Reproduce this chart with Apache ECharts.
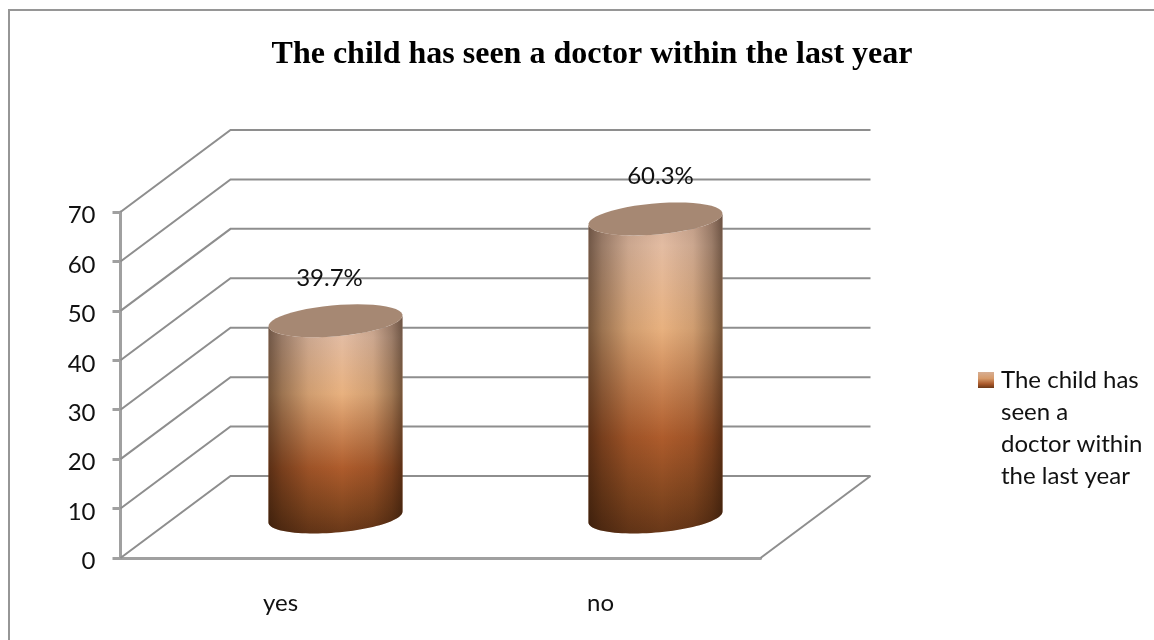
<!DOCTYPE html>
<html>
<head>
<meta charset="utf-8">
<style>html,body{margin:0;padding:0;background:#fff}#chart{width:1154px;height:640px}</style>
<script src="https://cdn.jsdelivr.net/npm/echarts@6/dist/echarts.min.js"></script>
</head>
<body>
<div id="chart"></div>
<script>
const categories = ['yes', 'no'];
const percentValues = [39.7, 60.3];
const tickValues = [0, 10, 20, 30, 40, 50, 60, 70];
const seriesName = 'The child has seen a doctor within the last year';

// Oblique projection of the chart floor: how far the back wall sits from the front plane.
const DEPTH_X = 110;
const DEPTH_Y = -82;
// Cylinder footprint as an ellipse built from two conjugate half-axes.
const AXIS_U = 63.3;
const AXIS_V_X = 22;
const AXIS_V_Y = -16.5;
const LABEL_NUDGE = [-6, 5];
const GRID_COLOR = '#8e8e8e';
const AXIS_COLOR = '#a0a0a0';
const FONT = 'Lato, "Open Sans", sans-serif';

function ellipsePoint(cx, cy, t) {
  return [
    cx + AXIS_U * Math.cos(t) + AXIS_V_X * Math.sin(t),
    cy + AXIS_V_Y * Math.sin(t)
  ];
}

function ellipseArc(cx, cy, from, to) {
  const pts = [];
  const steps = 48;
  for (let i = 0; i <= steps; i++) {
    pts.push(ellipsePoint(cx, cy, from + (to - from) * i / steps));
  }
  return pts;
}

const bodyGradient = new echarts.graphic.LinearGradient(0, 0, 0, 1, [
  { offset: 0, color: '#d4ae98' },
  { offset: 0.1, color: '#e3bca2' },
  { offset: 0.36, color: '#e8b17f' },
  { offset: 0.7, color: '#ae5c2c' },
  { offset: 0.88, color: '#854820' },
  { offset: 1, color: '#683718' }
]);
const sideShade = new echarts.graphic.LinearGradient(0, 0, 1, 0, [
  { offset: 0, color: 'rgba(30,14,4,0.58)' },
  { offset: 0.1, color: 'rgba(30,14,4,0.38)' },
  { offset: 0.3, color: 'rgba(30,14,4,0.12)' },
  { offset: 0.55, color: 'rgba(30,14,4,0)' },
  { offset: 0.78, color: 'rgba(30,14,4,0.12)' },
  { offset: 0.92, color: 'rgba(30,14,4,0.36)' },
  { offset: 1, color: 'rgba(30,14,4,0.58)' }
]);
const legendGradient = new echarts.graphic.LinearGradient(0, 0, 0, 1, [
  { offset: 0, color: '#d7ae93' },
  { offset: 0.4, color: '#d69a6a' },
  { offset: 0.75, color: '#a9582a' },
  { offset: 1, color: '#6b3817' }
]);

function renderCylinder(params, api) {
  const index = api.value(0);
  const value = api.value(1);
  const front = api.coord([index, 0]);
  const top = api.coord([index, value]);
  const cx = front[0] + DEPTH_X / 2;
  const baseY = front[1] + DEPTH_Y / 2;
  const topY = top[1] + DEPTH_Y / 2;
  // Angle of the right-hand silhouette point of the tilted ellipse.
  const edge = Math.atan2(AXIS_V_X, AXIS_U);
  const lower = ellipseArc(cx, baseY, edge, edge - Math.PI);
  const upper = ellipseArc(cx, topY, edge - Math.PI, edge);
  const body = lower.concat(upper);
  const lid = ellipseArc(cx, topY, 0, Math.PI * 2);
  return {
    type: 'group',
    children: [
      { type: 'polygon', shape: { points: body }, style: { fill: bodyGradient } },
      { type: 'polygon', shape: { points: body }, style: { fill: sideShade } },
      { type: 'polygon', shape: { points: lid }, style: { fill: '#a68873' } },
      {
        type: 'text',
        style: {
          text: value.toFixed(1) + '%',
          x: cx + LABEL_NUDGE[index],
          y: topY - 43,
          align: 'center',
          verticalAlign: 'middle',
          fill: '#111',
          font: '24px ' + FONT
        }
      }
    ]
  };
}

function renderWallLine(params, api) {
  const value = api.value(0);
  const rect = params.coordSys;
  const y = api.coord([0, value])[1];
  const left = rect.x;
  const backLeft = left + DEPTH_X;
  const backRight = left + rect.width + DEPTH_X;
  const lineStyle = { stroke: GRID_COLOR, lineWidth: 2, fill: null };
  const children = [{
    type: 'polyline',
    shape: { points: [[left, y], [backLeft, y + DEPTH_Y], [backRight, y + DEPTH_Y]] },
    style: lineStyle
  }];
  if (value === tickValues[0]) {
    // The floor closes with a diagonal on its right side.
    children.push({
      type: 'line',
      shape: { x1: left + rect.width, y1: y, x2: backRight, y2: y + DEPTH_Y },
      style: lineStyle
    });
  }
  return { type: 'group', children: children };
}

const chart = echarts.init(document.getElementById('chart'), null, { renderer: 'canvas' });
chart.setOption({
  animation: false,
  backgroundColor: '#fff',
  textStyle: { fontFamily: FONT },
  title: {
    text: 'The child has seen a doctor within the last year',
    left: 587,
    top: 34,
    textAlign: 'center',
    textStyle: {
      fontFamily: '"Liberation Serif", serif',
      fontWeight: 'bold',
      fontSize: 32,
      color: '#000'
    }
  },
  graphic: [{
    type: 'polyline',
    silent: true,
    z: -10,
    shape: { points: [[9, 640], [9, 10], [1154, 10]] },
    style: { fill: null, stroke: '#969696', lineWidth: 2 }
  }],
  legend: {
    left: 973,
    top: 263,
    orient: 'vertical',
    itemWidth: 16,
    itemHeight: 16,
    itemGap: 0,
    selectedMode: false,
    icon: 'rect',
    data: [seriesName],
    // Blank lines keep the swatch level with the first line of the wrapped name.
    formatter: () => '\n\n\nThe child has\nseen a\ndoctor within\nthe last year',
    textStyle: { fontFamily: FONT, fontSize: 24, lineHeight: 32, color: '#111', padding: [0, 0, 0, 2] }
  },
  grid: { left: 120.5, top: 212, width: 640, height: 346 },
  xAxis: {
    type: 'category',
    data: categories,
    boundaryGap: true,
    axisLine: { lineStyle: { color: AXIS_COLOR, width: 3 } },
    axisTick: { length: 8, lineStyle: { color: AXIS_COLOR, width: 3 } },
    axisLabel: { margin: 33, fontFamily: FONT, fontSize: 24, color: '#111' }
  },
  yAxis: {
    type: 'value',
    min: 0,
    max: 70,
    interval: 10,
    axisLine: { show: true, lineStyle: { color: AXIS_COLOR, width: 3 } },
    axisTick: { show: true, length: 8, lineStyle: { color: AXIS_COLOR, width: 3 } },
    axisLabel: {
      margin: 25,
      formatter: '{n|{value}}',
      rich: { n: { fontFamily: FONT, fontSize: 24, color: '#111', padding: [7, 0, 0, 0] } }
    },
    splitLine: { show: false }
  },
  series: [
    {
      name: 'walls',
      type: 'custom',
      silent: true,
      z: 1,
      renderItem: renderWallLine,
      encode: { y: 0 },
      data: tickValues.map(v => [v])
    },
    {
      name: seriesName,
      type: 'custom',
      silent: true,
      z: 3,
      itemStyle: { color: legendGradient },
      renderItem: renderCylinder,
      encode: { x: 0, y: 1 },
      data: percentValues.map((v, i) => [i, v])
    }
  ]
});
</script>
</body>
</html>
